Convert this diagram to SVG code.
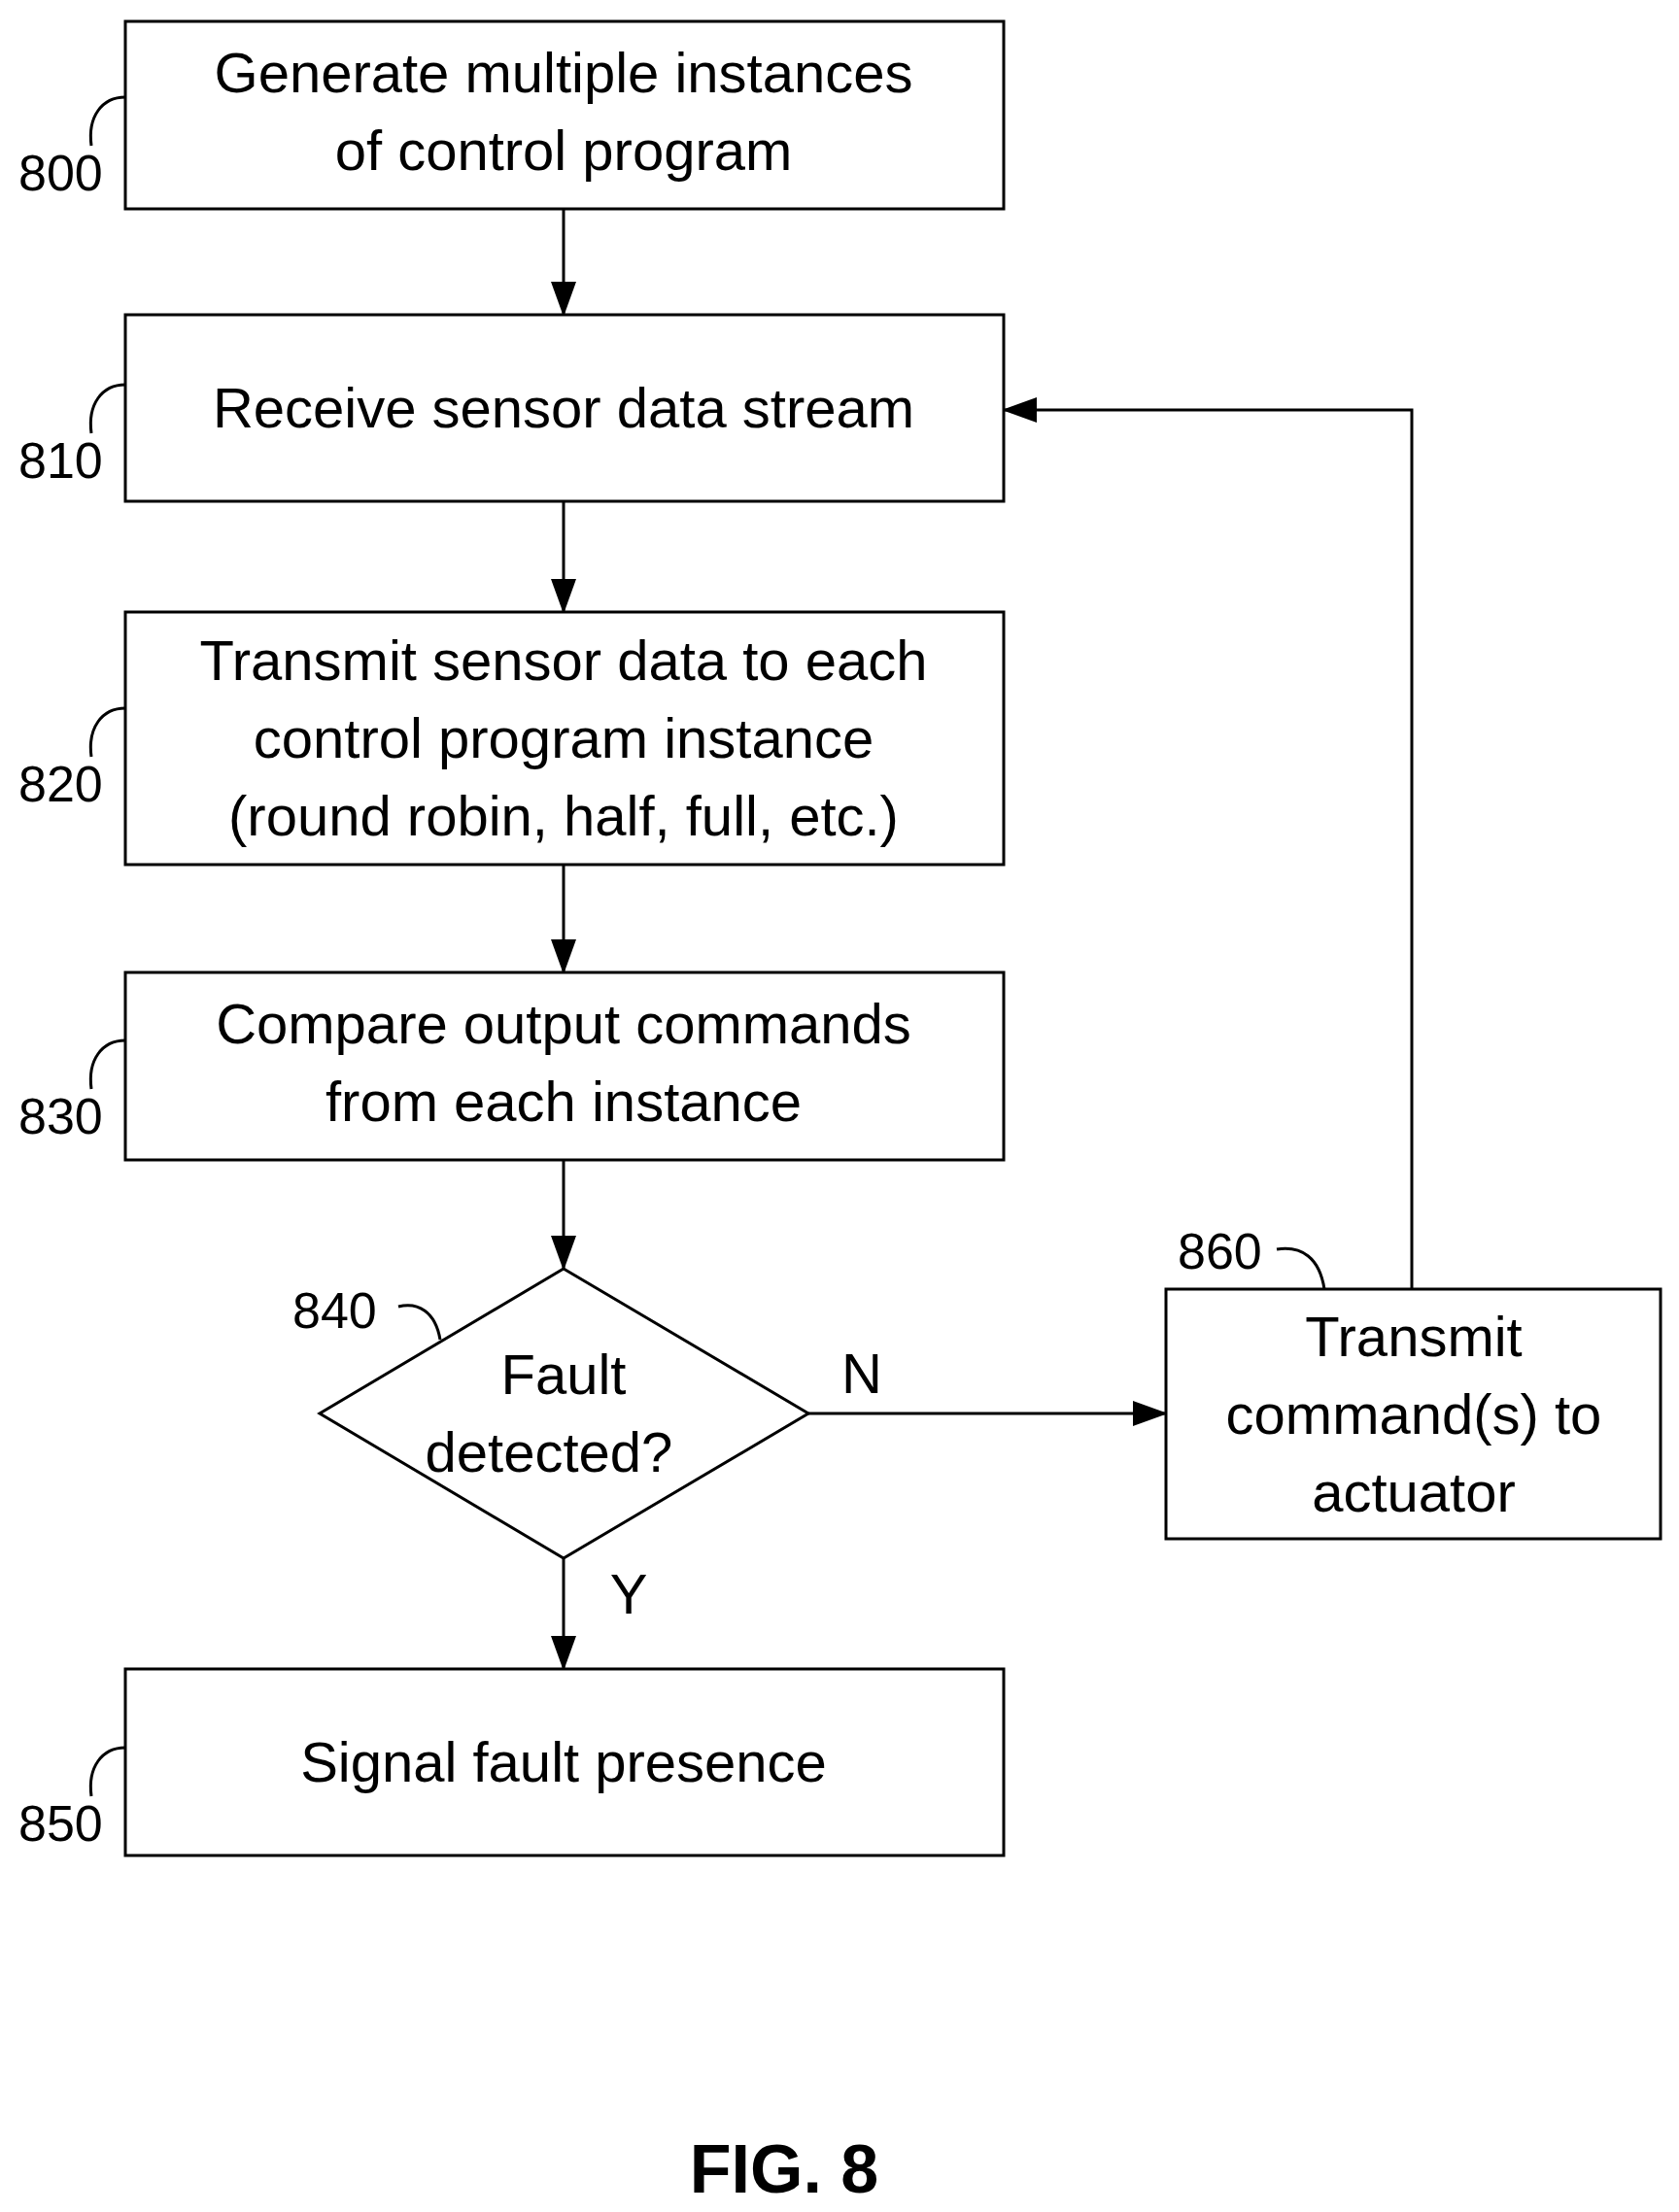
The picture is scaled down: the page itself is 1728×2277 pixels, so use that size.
<svg xmlns="http://www.w3.org/2000/svg" width="1728" height="2277" viewBox="0 0 1728 2277">
<style>
.b{fill:#fff;stroke:#000;stroke-width:3}
.t{font-family:"Liberation Sans",Arial,sans-serif;font-size:58px;text-anchor:middle;fill:#000}
.l{font-family:"Liberation Sans",Arial,sans-serif;font-size:52px;fill:#000}
.c{fill:none;stroke:#000;stroke-width:3}
</style>
<defs><marker id="a" markerWidth="12" markerHeight="10" refX="11" refY="5" orient="auto" markerUnits="userSpaceOnUse" viewBox="0 0 12 10"><path d="M0,0L12,5L0,10z" fill="#000"/></marker>
<marker id="ah" markerWidth="36" markerHeight="26" refX="34" refY="13" orient="auto" markerUnits="userSpaceOnUse"><path d="M0,0L36,13L0,26z" fill="#000"/></marker></defs>
<rect width="1728" height="2277" fill="#fff"/>
<g id="connectors" class="c">
<path d="M580,215V324" marker-end="url(#ah)"/>
<path d="M580,516V630" marker-end="url(#ah)"/>
<path d="M580,890V1001" marker-end="url(#ah)"/>
<path d="M580,1194V1306" marker-end="url(#ah)"/>
<path d="M580,1604V1718" marker-end="url(#ah)"/>
<path d="M832,1455H1200" marker-end="url(#ah)"/>
<path d="M1453,1327V422H1033" marker-end="url(#ah)"/>
<text class="t" x="887" y="1434" stroke="none">N</text>
<text class="t" x="647" y="1661" stroke="none">Y</text>
</g>
<g id="n800"><rect class="b" x="129" y="22" width="904" height="193"/><text class="t" x="580" y="95">Generate multiple instances</text><text class="t" x="580" y="175">of control program</text><path class="c" d="M94,150C90,120 105,100 129,100"/><text class="l" x="19" y="196">800</text></g>
<g id="n810"><rect class="b" x="129" y="324" width="904" height="192"/><text class="t" x="580" y="440">Receive sensor data stream</text><path class="c" d="M94,446C90,416 105,396 129,396"/><text class="l" x="19" y="492">810</text></g>
<g id="n820"><rect class="b" x="129" y="630" width="904" height="260"/><text class="t" x="580" y="700">Transmit sensor data to each</text><text class="t" x="580" y="780">control program instance</text><text class="t" x="580" y="860">(round robin, half, full, etc.)</text><path class="c" d="M94,779C90,749 105,729 129,729"/><text class="l" x="19" y="825">820</text></g>
<g id="n830"><rect class="b" x="129" y="1001" width="904" height="193"/><text class="t" x="580" y="1074">Compare output commands</text><text class="t" x="580" y="1154">from each instance</text><path class="c" d="M94,1121C90,1091 105,1071 129,1071"/><text class="l" x="19" y="1167">830</text></g>
<g id="n840"><path class="b" d="M580,1306L832,1455L580,1604L329,1455z"/><text class="t" x="580" y="1435">Fault</text><text class="t" x="565" y="1515">detected?</text><path class="c" d="M410,1345C430,1340 448,1350 453,1379"/><text class="l" x="301" y="1367">840</text></g>
<g id="n850"><rect class="b" x="129" y="1718" width="904" height="192"/><text class="t" x="580" y="1834">Signal fault presence</text><path class="c" d="M94,1849C90,1819 105,1799 129,1799"/><text class="l" x="19" y="1895">850</text></g>
<g id="n860"><rect class="b" x="1200" y="1327" width="509" height="257"/><text class="t" x="1455" y="1396">Transmit</text><text class="t" x="1455" y="1476">command(s) to</text><text class="t" x="1455" y="1556">actuator</text><path class="c" d="M1314,1286C1340,1282 1358,1295 1363,1327"/><text class="l" x="1212" y="1306">860</text></g>
<text x="807" y="2257" font-family="Liberation Sans,Arial,sans-serif" font-size="70" font-weight="bold" text-anchor="middle">FIG. 8</text>
</svg>
